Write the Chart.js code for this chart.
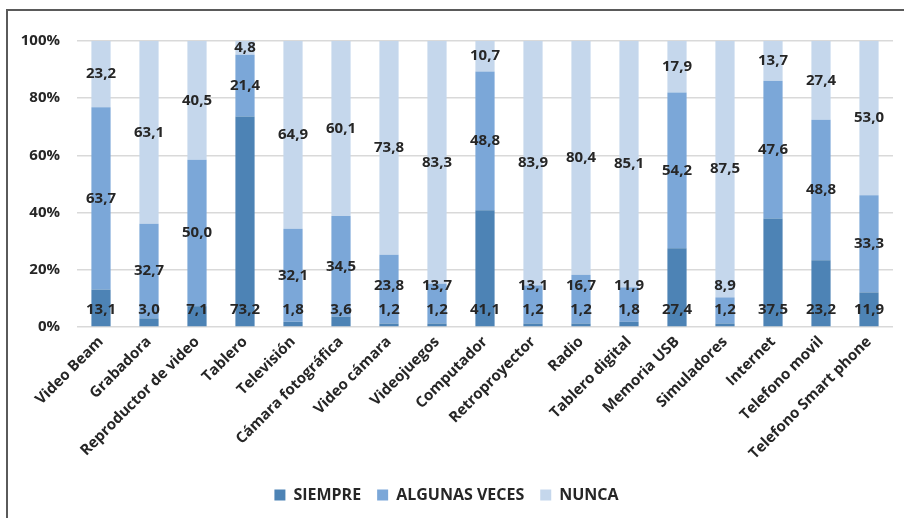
<!DOCTYPE html>
<html>
<head>
<meta charset="utf-8">
<script src="https://cdn.jsdelivr.net/npm/chart.js@4.4.1/dist/chart.umd.min.js"></script>
<style>
    body { margin: 0; background: #fff; }
    #wrap { position: relative; width: 904px; height: 518px; }
    #frame {
        position: absolute; left: 6px; top: 9px; right: 0; bottom: 0;
        border-top: 2px solid #5a5a5a; border-left: 2px solid #5a5a5a;
        pointer-events: none;
    }
</style>
</head>
<body>
<div id="wrap">
    <canvas id="chart" width="904" height="518"></canvas>
    <div id="frame"></div>
</div>
<script>
// Categories and values (percent of respondents)
const categories = [
    'Video Beam', 'Grabadora', 'Reproductor de video', 'Tablero', 'Televisión',
    'Cámara fotográfica', 'Video cámara', 'Videojuegos', 'Computador', 'Retroproyector',
    'Radio', 'Tablero digital', 'Memoria USB', 'Simuladores', 'Internet',
    'Telefono movil', 'Telefono Smart phone'
];
const siempre = [13.1, 3.0, 7.1, 73.2, 1.8, 3.6, 1.2, 1.2, 41.1, 1.2, 1.2, 1.8, 27.4, 1.2, 37.5, 23.2, 11.9];
const algunasVeces = [63.7, 32.7, 50.0, 21.4, 32.1, 34.5, 23.8, 13.7, 48.8, 13.1, 16.7, 11.9, 54.2, 8.9, 47.6, 48.8, 33.3];
const nunca = [23.2, 63.1, 40.5, 4.8, 64.9, 60.1, 73.8, 83.3, 10.7, 83.9, 80.4, 85.1, 17.9, 87.5, 13.7, 27.4, 53.0];
const yTicks = [0, 20, 40, 60, 80, 100];

const seriesNames = ['SIEMPRE', 'ALGUNAS VECES', 'NUNCA'];
const seriesColors = ['#4d83b5', '#7ba7d8', '#c5d7ec'];
const rawSeries = [siempre, algunasVeces, nunca];

// 100% stacked: scale each bar to its own total
const totals = categories.map((c, i) => siempre[i] + algunasVeces[i] + nunca[i]);
const toPercent = arr => arr.map((v, i) => v / totals[i] * 100);

const FONT = '"Open Sans", Lato, sans-serif';
const TEXT = '#262626';

// Draws the value labels on each segment
const valueLabels = {
    id: 'valueLabels',
    afterDatasetsDraw(chart) {
        const ctx = chart.ctx;
        ctx.save();
        ctx.font = 'bold 15px ' + FONT;
        ctx.fillStyle = TEXT;
        ctx.textAlign = 'center';
        ctx.textBaseline = 'middle';
        categories.forEach((cat, i) => {
            let prev = null;
            rawSeries.forEach((arr, d) => {
                const bar = chart.getDatasetMeta(d).data[i];
                let y;
                if (d === 0) {
                    y = bar.base - 17;
                } else {
                    y = (bar.y + bar.base) / 2;
                    if (prev !== null) y = Math.min(y, prev - 24);
                }
                prev = y;
                ctx.fillText(arr[i].toFixed(1).replace('.', ','), bar.x, y);
            });
        });
        ctx.restore();
    }
};

new Chart(document.getElementById('chart').getContext('2d'), {
    type: 'bar',
    data: {
        labels: categories,
        datasets: rawSeries.map((arr, d) => ({
            label: seriesNames[d],
            data: toPercent(arr),
            backgroundColor: seriesColors[d],
            borderWidth: 0,
            barPercentage: 0.4,
            categoryPercentage: 1.0
        }))
    },
    options: {
        responsive: false,
        animation: false,
        layout: { padding: { left: 0, right: 11, top: 41, bottom: 5 } },
        plugins: {
            tooltip: { enabled: false },
            legend: {
                position: 'bottom',
                labels: {
                    boxWidth: 11,
                    boxHeight: 11,
                    padding: 16,
                    color: TEXT,
                    font: { family: FONT, size: 16, weight: 'bold' }
                }
            }
        },
        scales: {
            x: {
                stacked: true,
                grid: { display: false, drawTicks: false },
                border: { display: false },
                ticks: {
                    color: TEXT,
                    font: { family: FONT, size: 15, weight: 'bold' },
                    maxRotation: 45,
                    minRotation: 45,
                    padding: 6,
                    autoSkip: false
                },
                afterFit(scale) { scale.height = 144; }
            },
            y: {
                stacked: true,
                min: 0,
                max: 100,
                afterBuildTicks(scale) { scale.ticks = yTicks.map(v => ({ value: v })); },
                grid: { color: '#d9d9d9', lineWidth: 1.5, drawTicks: false },
                border: { display: false },
                ticks: {
                    color: TEXT,
                    padding: 17,
                    font: { family: FONT, size: 15, weight: 'bold' },
                    callback: v => v + '%'
                },
                afterFit(scale) { scale.width = 77; }
            }
        }
    },
    plugins: [valueLabels]
});
</script>
</body>
</html>
